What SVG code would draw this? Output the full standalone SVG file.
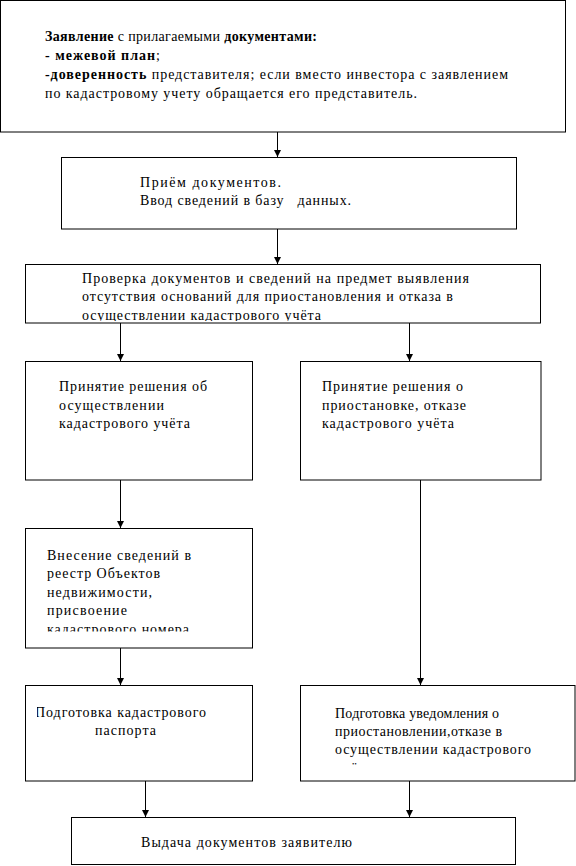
<svg xmlns="http://www.w3.org/2000/svg" width="576" height="866" viewBox="0 0 576 866">
<style>
.box{fill:#fff;stroke:#000;stroke-width:1}
.t{font-family:'Liberation Serif','Times New Roman','DejaVu Serif',serif;font-size:14px;fill:#000;white-space:pre}
.b{font-weight:bold}
.ln{stroke:#000;stroke-width:1;fill:none}
</style>
<defs>
<marker id="ah" markerWidth="8" markerHeight="8" refX="7" refY="3.5" orient="auto" markerUnits="userSpaceOnUse">
<path d="M0,0 L7,3.5 L0,7 Z" fill="#000"/>
</marker>
<clipPath id="c3"><rect x="25" y="264" width="516" height="57"/></clipPath>
<clipPath id="c5"><rect x="25" y="528" width="228" height="103.5"/></clipPath>
<clipPath id="c6l"><rect x="37" y="685" width="215" height="95"/></clipPath>
<clipPath id="c6r"><rect x="300" y="685" width="275" height="81"/></clipPath>
</defs>
<rect width="576" height="866" fill="#fff"/>
<g id="connectors">
<line class="ln" x1="277.5" y1="132" x2="277.5" y2="157" marker-end="url(#ah)"/>
<line class="ln" x1="277.5" y1="229" x2="277.5" y2="264" marker-end="url(#ah)"/>
<line class="ln" x1="120.5" y1="323" x2="120.5" y2="361" marker-end="url(#ah)"/>
<line class="ln" x1="409.5" y1="323" x2="409.5" y2="361" marker-end="url(#ah)"/>
<line class="ln" x1="120.5" y1="480" x2="120.5" y2="528" marker-end="url(#ah)"/>
<line class="ln" x1="120.5" y1="648" x2="120.5" y2="685" marker-end="url(#ah)"/>
<line class="ln" x1="420.5" y1="480" x2="420.5" y2="685" marker-end="url(#ah)"/>
<line class="ln" x1="145.5" y1="781" x2="145.5" y2="817" marker-end="url(#ah)"/>
<line class="ln" x1="409.5" y1="781" x2="409.5" y2="817" marker-end="url(#ah)"/>
</g>
<g id="n1">
<rect class="box" x="0.5" y="0.5" width="565" height="131.5"/>
<text class="t" x="45" y="41" textLength="272" lengthAdjust="spacing"><tspan class="b">Заявление</tspan> с прилагаемыми <tspan class="b">документами:</tspan></text>
<text class="t" x="45" y="60" textLength="115" lengthAdjust="spacing"><tspan class="b">- межевой план</tspan>;</text>
<text class="t" x="45" y="79" textLength="463" lengthAdjust="spacing"><tspan class="b">-доверенность</tspan> представителя; если вместо инвестора с заявлением</text>
<text class="t" x="45" y="98" textLength="372" lengthAdjust="spacing">по кадастровому учету обращается его представитель.</text>
</g>
<g id="n2">
<rect class="box" x="61.5" y="157.5" width="455" height="71.5"/>
<text class="t" x="140" y="187" textLength="141" lengthAdjust="spacing">Приём документов.</text>
<text class="t" x="140" y="205" textLength="211" lengthAdjust="spacing">Ввод сведений в базу   данных.</text>
</g>
<g id="n3">
<rect class="box" x="25.5" y="264.5" width="515" height="58.5"/>
<g clip-path="url(#c3)">
<text class="t" x="82" y="283" textLength="387" lengthAdjust="spacing">Проверка документов и сведений на предмет выявления</text>
<text class="t" x="82" y="301" textLength="371" lengthAdjust="spacing">отсутствия оснований для приостановления и отказа в</text>
<text class="t" x="82" y="320" textLength="239" lengthAdjust="spacing">осуществлении кадастрового учёта</text>
</g>
</g>
<g id="n4l">
<rect class="box" x="25.5" y="361.5" width="227" height="118.5"/>
<text class="t" x="59" y="391" textLength="148" lengthAdjust="spacing">Принятие решения об</text>
<text class="t" x="59" y="410" textLength="105" lengthAdjust="spacing">осуществлении</text>
<text class="t" x="59" y="428" textLength="131" lengthAdjust="spacing">кадастрового учёта</text>
</g>
<g id="n4r">
<rect class="box" x="300.5" y="361.5" width="240.5" height="118.5"/>
<text class="t" x="322" y="391" textLength="141" lengthAdjust="spacing">Принятие решения о</text>
<text class="t" x="322" y="410" textLength="144" lengthAdjust="spacing">приостановке, отказе</text>
<text class="t" x="322" y="428" textLength="132" lengthAdjust="spacing">кадастрового учёта</text>
</g>
<g id="n5l">
<rect class="box" x="25.5" y="528.5" width="227" height="119.5"/>
<g clip-path="url(#c5)">
<text class="t" x="47" y="560" textLength="144" lengthAdjust="spacing">Внесение сведений в</text>
<text class="t" x="47" y="578" textLength="113" lengthAdjust="spacing">реестр Объектов</text>
<text class="t" x="47" y="597" textLength="105" lengthAdjust="spacing">недвижимости,</text>
<text class="t" x="47" y="615" textLength="80" lengthAdjust="spacing">присвоение</text>
<text class="t" x="47" y="634" textLength="142" lengthAdjust="spacing">кадастрового номера</text>
</g>
</g>
<g id="n6l">
<rect class="box" x="25.5" y="685.5" width="227" height="95.5"/>
<g clip-path="url(#c6l)">
<text class="t" x="35" y="717" textLength="171" lengthAdjust="spacing">Подготовка кадастрового</text>
</g>
<text class="t" x="95" y="735" textLength="61" lengthAdjust="spacing">паспорта</text>
</g>
<g id="n6r">
<rect class="box" x="300.5" y="685.5" width="274.5" height="95.5"/>
<g clip-path="url(#c6r)">
<text class="t" x="335" y="718" textLength="164" lengthAdjust="spacing">Подготовка уведомления о</text>
<text class="t" x="335" y="736" textLength="167" lengthAdjust="spacing">приостановлении,отказе в</text>
<text class="t" x="335" y="754" textLength="196" lengthAdjust="spacing">осуществлении кадастрового</text>
<text class="t" x="335" y="772.5" letter-spacing="1">учёта.</text>
</g>
</g>
<g id="n7">
<rect class="box" x="71.5" y="817.5" width="444" height="47"/>
<text class="t" x="141" y="847" textLength="211" lengthAdjust="spacing">Выдача документов заявителю</text>
</g>
</svg>
